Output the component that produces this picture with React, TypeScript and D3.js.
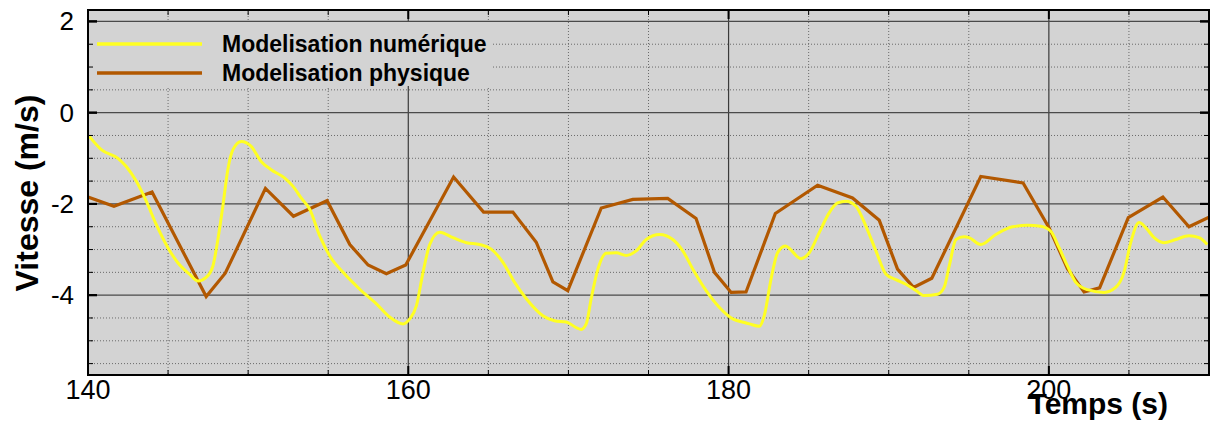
import React from "react";
import * as d3 from "d3";

const seriesNames = ["Modelisation numérique", "Modelisation physique"];

const numTime = [140.08,140.83,141.87,142.39,143.01,143.64,144.26,144.99,145.61,146.34,146.86,147.38,147.8,148.11,148.42,148.73,149.05,149.57,150.19,150.81,151.44,152.27,152.79,153.31,153.85,154.47,155.1,155.93,156.97,158.01,158.84,159.67,160.09,160.51,160.92,161.34,161.96,162.79,163.63,164.45,165.18,165.91,166.64,167.37,168.4,169.13,169.86,170.8,171.11,171.42,171.84,172.36,172.98,173.61,174.23,174.86,175.69,176.52,177.14,177.77,178.6,179.43,180.26,181.09,181.3,181.92,182.23,182.65,183.06,183.54,184.52,185.04,185.66,186.29,186.81,187.33,187.95,188.58,189.2,189.83,190.45,191.07,191.7,192.22,193.05,193.46,193.78,194.2,194.71,195.02,195.75,196.69,197.73,198.66,199.49,200.12,200.64,201.16,201.68,202.41,203.45,204.17,204.69,205.11,205.63,206.05,206.57,207.19,207.92,208.75,209.38,209.89];
const numSpeed = [-0.52,-0.81,-1.0,-1.18,-1.5,-1.94,-2.45,-2.96,-3.29,-3.54,-3.69,-3.61,-3.36,-2.78,-2.05,-1.25,-0.81,-0.63,-0.74,-1.07,-1.25,-1.43,-1.61,-1.87,-2.12,-2.7,-3.14,-3.5,-3.87,-4.19,-4.48,-4.63,-4.52,-4.23,-3.5,-2.89,-2.62,-2.74,-2.85,-2.89,-2.99,-3.28,-3.72,-4.08,-4.45,-4.56,-4.59,-4.75,-4.63,-4.08,-3.43,-3.08,-3.07,-3.13,-3.03,-2.78,-2.67,-2.78,-3.03,-3.43,-3.9,-4.27,-4.52,-4.61,-4.63,-4.68,-4.45,-3.65,-3.07,-2.92,-3.2,-3.07,-2.63,-2.19,-1.98,-1.94,-2.05,-2.49,-3.03,-3.54,-3.66,-3.76,-3.9,-4.01,-3.98,-3.83,-3.36,-2.78,-2.72,-2.74,-2.89,-2.67,-2.5,-2.47,-2.49,-2.6,-2.96,-3.36,-3.72,-3.88,-3.94,-3.83,-3.5,-2.85,-2.41,-2.52,-2.74,-2.85,-2.78,-2.7,-2.74,-2.89];

const phyTime = [140,141.62,144.0,147.38,148.57,151.08,152.83,154.93,156.35,157.49,158.63,159.84,162.83,164.7,166.53,167.99,169.03,169.96,172.05,174.02,176.2,177.97,179.12,180.16,181.09,182.92,185.56,187.74,189.41,190.55,191.55,192.69,195.75,198.39,200.01,201.16,202.2,203.17,204.96,207.12,208.75,210];
const phySpeed = [-1.85,-2.05,-1.74,-4.03,-3.52,-1.66,-2.27,-1.93,-2.89,-3.34,-3.53,-3.34,-1.41,-2.18,-2.18,-2.84,-3.71,-3.9,-2.09,-1.9,-1.88,-2.32,-3.5,-3.94,-3.93,-2.21,-1.59,-1.87,-2.36,-3.43,-3.83,-3.63,-1.4,-1.54,-2.52,-3.42,-3.93,-3.84,-2.3,-1.85,-2.5,-2.29];

const xMajorTicks = [140, 160, 180, 200];
const yMajorTicks = [-4, -2, 0, 2];
const xLabel = "Temps (s)";
const yLabel = "Vitesse (m/s)";

const W = 1213, H = 427;
const L = 88, R = 1209, T = 10, B = 375;
const FONT = "'Liberation Sans', Arial, Helvetica, sans-serif";
const BG = "#d3d3d3";
const YELLOW = "#ffff22";
const BROWN = "#b25800";

export default function App() {
  const x = d3.scaleLinear().domain([140, 210]).range([L, R]);
  const y = d3.scaleLinear().domain([-5.75, 2.25]).range([B, T]);

  const xMinor = d3.range(140, 210.01, 5);
  const yMinor = d3.range(-5.5, 2.01, 0.5);

  const numData = numTime.map((t, i) => [t, numSpeed[i]] as [number, number]);
  const phyData = phyTime.map((t, i) => [t, phySpeed[i]] as [number, number]);

  const smooth = d3.line<[number, number]>().x(d => x(d[0])).y(d => y(d[1])).curve(d3.curveMonotoneX);
  const straight = d3.line<[number, number]>().x(d => x(d[0])).y(d => y(d[1]));

  const isMajorX = (v: number) => Math.abs(v % 20) < 1e-6;
  const isMajorY = (v: number) => Math.abs(v % 2) < 1e-6;

  return (
    <svg width={W} height={H} style={{ position: "absolute", left: 0, top: 0, display: "block" }} fontFamily={FONT}>
      <defs>
        <clipPath id="plotclip">
          <rect x={L} y={T} width={R - L} height={B - T} />
        </clipPath>
      </defs>
      <rect x={0} y={0} width={W} height={H} fill="#ffffff" />
      <rect x={L} y={T} width={R - L} height={B - T} fill={BG} />

      {/* minor grid */}
      {xMinor.filter(v => !isMajorX(v) && v > 140 && v < 210).map(v => (
        <line key={"xm" + v} x1={x(v)} x2={x(v)} y1={T} y2={B} stroke="#6a6a6a" strokeWidth={1} strokeDasharray="1,2" />
      ))}
      {yMinor.filter(v => !isMajorY(v)).map(v => (
        <line key={"ym" + v} x1={L} x2={R} y1={y(v)} y2={y(v)} stroke="#6a6a6a" strokeWidth={1} strokeDasharray="1,2" />
      ))}
      {/* major grid */}
      {xMajorTicks.filter(v => v > 140).map(v => (
        <line key={"xM" + v} x1={x(v)} x2={x(v)} y1={T} y2={B} stroke="#3a3a3a" strokeWidth={1.2} />
      ))}
      {yMajorTicks.map(v => (
        <line key={"yM" + v} x1={L} x2={R} y1={y(v)} y2={y(v)} stroke="#4a4a4a" strokeWidth={1.3} />
      ))}

      {/* legend */}
      <rect x={L + 1} y={22} width={404} height={64} fill={BG} />
      <line x1={97} x2={202} y1={44} y2={44} stroke={YELLOW} strokeWidth={3.5} />
      <line x1={97} x2={202} y1={73} y2={73} stroke={BROWN} strokeWidth={3.5} />
      <text x={222} y={52} fontSize={23} fontWeight="bold" fill="#000">{seriesNames[0]}</text>
      <text x={222} y={80.5} fontSize={23} fontWeight="bold" fill="#000">{seriesNames[1]}</text>

      {/* data */}
      <g clipPath="url(#plotclip)">
        <path d={straight(phyData) || ""} fill="none" stroke={BROWN} strokeWidth={3.2} strokeLinejoin="miter" />
        <path d={smooth(numData) || ""} fill="none" stroke={YELLOW} strokeWidth={3} />
      </g>

      {/* ticks */}
      {yMinor.concat([-4, -2, 0, 2]).map((v, i) => {
        const maj = isMajorY(v);
        const len = maj ? 9 : 5;
        const w = maj ? 2 : 1;
        return (
          <g key={"yt" + i}>
            <line x1={L} x2={L + len} y1={y(v)} y2={y(v)} stroke="#000" strokeWidth={w} />
            <line x1={R - len} x2={R} y1={y(v)} y2={y(v)} stroke="#000" strokeWidth={w} />
          </g>
        );
      })}
      {xMinor.map((v, i) => {
        const maj = isMajorX(v);
        const len = maj ? 9 : 5;
        const w = maj ? 2 : 1;
        return (
          <g key={"xt" + i}>
            <line x1={x(v)} x2={x(v)} y1={B} y2={B - len} stroke="#000" strokeWidth={w} />
            <line x1={x(v)} x2={x(v)} y1={T} y2={T + len} stroke="#000" strokeWidth={w} />
          </g>
        );
      })}

      {/* frame */}
      <rect x={L} y={T} width={R - L} height={B - T} fill="none" stroke="#000" strokeWidth={2} />

      {/* tick labels */}
      {xMajorTicks.map(v => (
        <text key={"xl" + v} x={x(v)} y={399} fontSize={27} textAnchor="middle" fill="#000">{v}</text>
      ))}
      {yMajorTicks.map(v => (
        <text key={"yl" + v} x={74} y={y(v) + 9} fontSize={26} textAnchor="end" fill="#000">{v}</text>
      ))}

      {/* axis titles */}
      <text x={1168} y={414} fontSize={30} fontWeight="bold" textAnchor="end" fill="#000">{xLabel}</text>
      <text transform={`translate(38,193) rotate(-90)`} fontSize={32} fontWeight="bold" textAnchor="middle" fill="#000">{yLabel}</text>
    </svg>
  );
}
